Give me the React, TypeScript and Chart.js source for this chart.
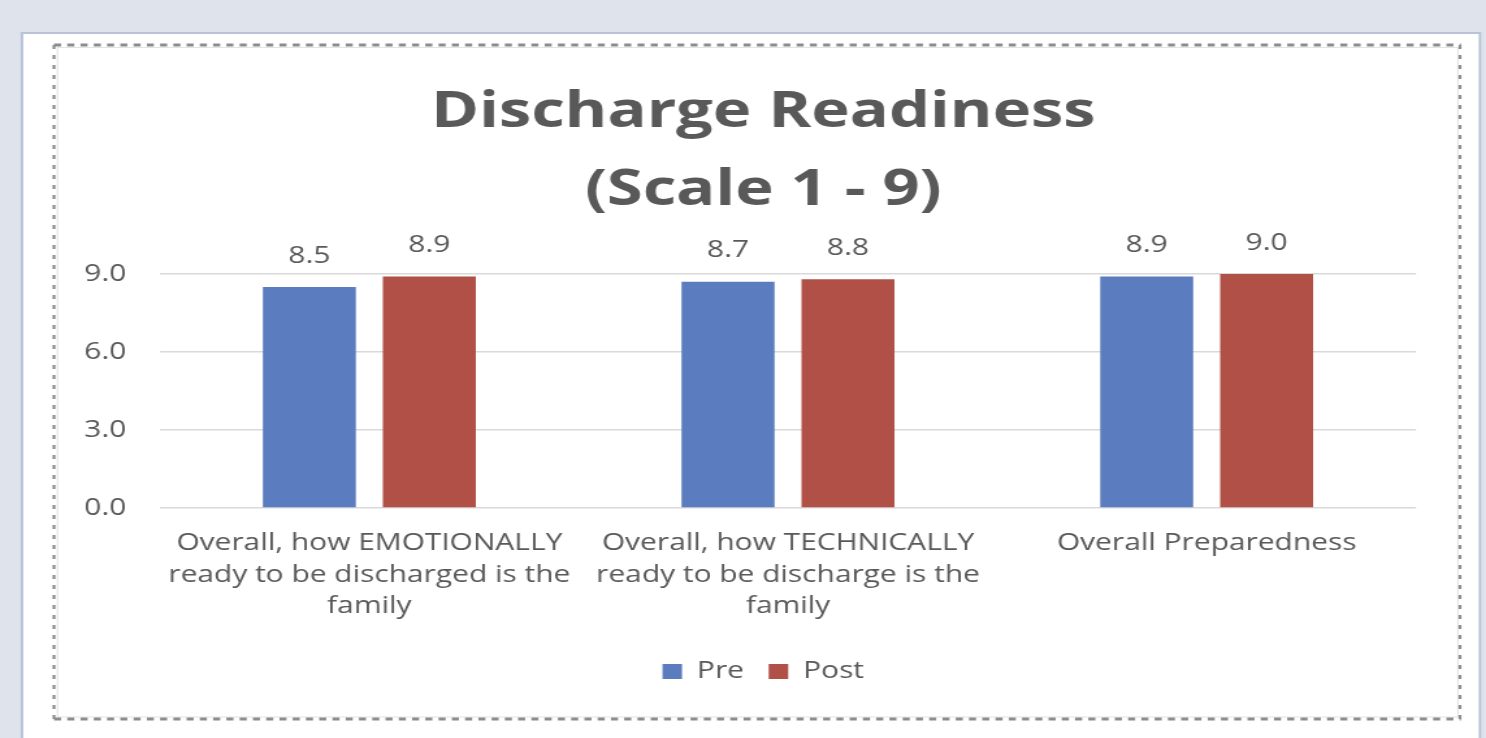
import React, { useEffect, useRef } from "react";
import { Chart, registerables } from "chart.js";

Chart.register(...registerables);

// ---- data ----
const categories: string[][] = [
  ["Overall, how EMOTIONALLY", "ready to be discharged is the", "family"],
  ["Overall, how TECHNICALLY", "ready to be discharge is the", "family"],
  ["Overall Preparedness"],
];
const seriesNames = ["Pre", "Post"];
const preValues = [8.5, 8.7, 8.9];
const postValues = [8.9, 8.8, 9.0];
const yTicks = [0, 3, 6, 9];
const titleLines = ["Discharge Readiness", "(Scale 1 - 9)"];

// ---- layout ----
const PAGE_W = 1486;
const PAGE_H = 738;
const CW = Math.round(PAGE_W / 1.3);
const SX = PAGE_W / CW;
const L = (x: number) => x / SX;

const FONT = "'Open Sans', 'Noto Sans', sans-serif";
const TEXT = "#595959";
const BLUE = "#5b7cbf";
const RED = "#b05046";

const PAD_L = 85;
const CHART_LEFT = L(160);
const CHART_RIGHT = L(1416);
const PAD_R = CW - CHART_RIGHT;

const framePlugin = {
  id: "frame",
  afterLayout(chart: any) {
    // widen the y axis label clip area to the left without moving the plot
    const y = chart.scales.y;
    if (y) y.left = 30;
  },
  beforeDraw(chart: any) {
    const ctx = chart.ctx as CanvasRenderingContext2D;
    ctx.save();
    ctx.fillStyle = "#dfe3ec";
    ctx.fillRect(0, 0, CW, PAGE_H);
    ctx.fillStyle = "#ffffff";
    ctx.fillRect(L(21), 32, L(1481) - L(21), PAGE_H);
    ctx.strokeStyle = "#b8c3d6";
    ctx.lineWidth = 2;
    ctx.beginPath();
    ctx.moveTo(L(22), PAGE_H + 5);
    ctx.lineTo(L(22), 33);
    ctx.lineTo(L(1480), 33);
    ctx.lineTo(L(1480), PAGE_H + 5);
    ctx.stroke();
    // inner light frame
    ctx.strokeStyle = "#e3e3e3";
    ctx.lineWidth = 1;
    ctx.strokeRect(L(57.5), 47.5, L(1458) - L(57.5), 717 - 47.5);
    // dashed frame
    ctx.strokeStyle = "#8c8c8c";
    ctx.lineWidth = 3;
    ctx.setLineDash([5.4, 4.8]);
    ctx.beginPath();
    ctx.moveTo(L(54), 45);
    ctx.lineTo(L(1461), 45);
    ctx.moveTo(L(54), 719);
    ctx.lineTo(L(1461), 719);
    ctx.stroke();
    ctx.lineWidth = 2.2;
    ctx.setLineDash([4, 6]);
    ctx.beginPath();
    ctx.moveTo(L(54), 45);
    ctx.lineTo(L(54), 720);
    ctx.moveTo(L(1460), 45);
    ctx.lineTo(L(1460), 720);
    ctx.stroke();
    ctx.restore();
  },
};

const valueLabelPlugin = {
  id: "valueLabels",
  afterDatasetsDraw(chart: any) {
    const ctx = chart.ctx as CanvasRenderingContext2D;
    ctx.save();
    ctx.font = `23px ${FONT}`;
    ctx.fillStyle = TEXT;
    ctx.textAlign = "center";
    ctx.textBaseline = "middle";
    chart.data.datasets.forEach((ds: any, i: number) => {
      const meta = chart.getDatasetMeta(i);
      meta.data.forEach((bar: any, j: number) => {
        const v = ds.data[j] as number;
        ctx.fillText(v.toFixed(1), bar.x, bar.y - 31);
      });
    });
    ctx.restore();
  },
};

export default function App() {
  const ref = useRef<HTMLCanvasElement | null>(null);

  useEffect(() => {
    document.body.style.margin = "0";
    const canvas = ref.current;
    if (!canvas) return;
    const chart = new Chart(canvas, {
      type: "bar",
      data: {
        labels: categories,
        datasets: [
          {
            label: seriesNames[0],
            data: preValues,
            backgroundColor: BLUE,
            borderWidth: 0,
            categoryPercentage: 0.573,
            barPercentage: 0.775,
          },
          {
            label: seriesNames[1],
            data: postValues,
            backgroundColor: RED,
            borderWidth: 0,
            categoryPercentage: 0.573,
            barPercentage: 0.775,
          },
        ],
      },
      options: {
        responsive: false,
        animation: false,
        devicePixelRatio: 1,
        layout: { padding: { top: 0, left: PAD_L, right: PAD_R, bottom: 45 } },
        plugins: {
          title: {
            display: true,
            text: titleLines,
            color: TEXT,
            font: { family: FONT, size: 50, weight: "bold", lineHeight: 1.56 },
            padding: { top: 74, bottom: 44 },
          },
          legend: {
            display: true,
            position: "bottom",
            labels: {
              boxWidth: 15,
              boxHeight: 15,
              padding: 19,
              color: TEXT,
              font: { family: FONT, size: 23 },
            },
          },
          tooltip: { enabled: false },
        },
        scales: {
          x: {
            type: "category",
            grid: { display: false, drawTicks: false },
            border: { display: false },
            ticks: {
              color: TEXT,
              font: { family: FONT, size: 23, lineHeight: 1.37 },
              padding: 20,
              maxRotation: 0,
              minRotation: 0,
              autoSkip: false,
            },
            afterFit: (s: any) => {
              s.height = 133;
            },
          },
          y: {
            min: 0,
            max: 9,
            grid: { color: "#d9d9d9", lineWidth: 1.5, drawTicks: false },
            border: { display: false },
            ticks: {
              color: TEXT,
              font: { family: FONT, size: 23 },
              padding: 26,
              callback: (v: any) => Number(v).toFixed(1),
            },
            afterBuildTicks: (s: any) => {
              s.ticks = yTicks.map((v) => ({ value: v }));
            },
            afterFit: (s: any) => {
              s.width = CHART_LEFT - PAD_L;
            },
          },
        },
      },
      plugins: [framePlugin, valueLabelPlugin],
    } as any);
    return () => chart.destroy();
  }, []);

  return (
    <div style={{ position: "absolute", left: 0, top: 0, width: PAGE_W, height: PAGE_H, overflow: "hidden" }}>
      <canvas
        ref={ref}
        width={CW}
        height={PAGE_H}
        style={{ display: "block", width: PAGE_W, height: PAGE_H }}
      />
    </div>
  );
}
